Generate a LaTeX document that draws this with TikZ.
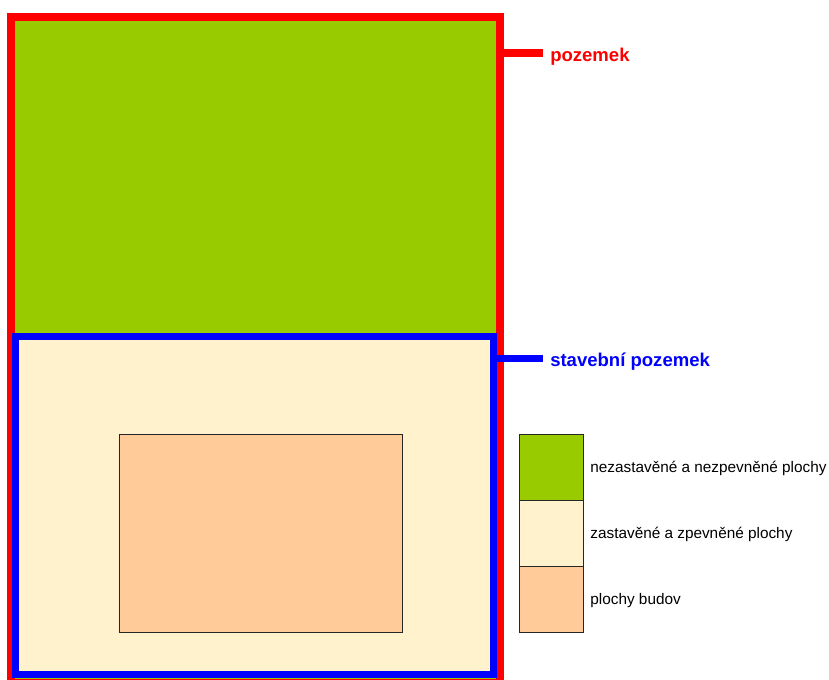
\documentclass[tikz,border=0pt]{standalone}
\usepackage{fontspec}
\setmainfont{Liberation Sans}
\usetikzlibrary{positioning}
\definecolor{Grass}{HTML}{99CC00}
\definecolor{Paved}{HTML}{FFF2CC}
\definecolor{Build}{HTML}{FFCC99}
\definecolor{PlotRed}{HTML}{FF0000}
\definecolor{SiteBlue}{HTML}{0000FF}
\tikzset{
  plotframe/.style={rectangle, inner sep=0pt, line width=6pt},
  area/.style={rectangle, draw=black!85, line width=0.75pt, inner sep=0pt},
  tab/.style={line width=6pt},
  lbl/.style={anchor=base west, inner sep=0pt, font=\fontsize{13.9}{16}\selectfont\bfseries},
  legtext/.style={inner sep=0pt, font=\fontsize{11.5}{13}\selectfont}
}
\begin{document}
\begin{tikzpicture}[x=0.75pt, y=-0.75pt]
\clip (0,0) rectangle (829,679);
% frames
\node[plotframe, draw=PlotRed, fill=Grass, minimum width=366.75pt, minimum height=499.5pt] (pz) at (255.5,350) {};
\node[plotframe, draw=SiteBlue, fill=Paved, line width=5.25pt, minimum width=358.5pt, minimum height=253.5pt] (sp) at (254.5,505) {};
\node[area, fill=Build, minimum width=212.25pt, minimum height=148.5pt] (bud) at (260.5,533) {};
% labels
\coordinate (pzend) at (543,53);
\coordinate (spend) at (543,358);
\draw[tab, draw=PlotRed] (pz.east |- pzend) -- (pzend);
\draw[tab, draw=SiteBlue, line width=5.25pt] (sp.east |- spend) -- (spend);
\node[lbl, text=PlotRed] (pzlbl) at (550,61) {pozemek};
\node[lbl, text=SiteBlue] (splbl) at (550,366) {stavební pozemek};
% legend
\foreach \c/\t [count=\i] in {Grass/nezastavěné a nezpevněné plochy, Paved/zastavěné a zpevněné plochy, Build/plochy budov}{
  \node[area, fill=\c, minimum width=48pt, minimum height=49.5pt] (key\i) at (551,401+66*\i) {};
  \node[legtext, right=5pt of key\i, yshift=-1pt] (keytext\i) {\t};
}
\end{tikzpicture}
\end{document}
